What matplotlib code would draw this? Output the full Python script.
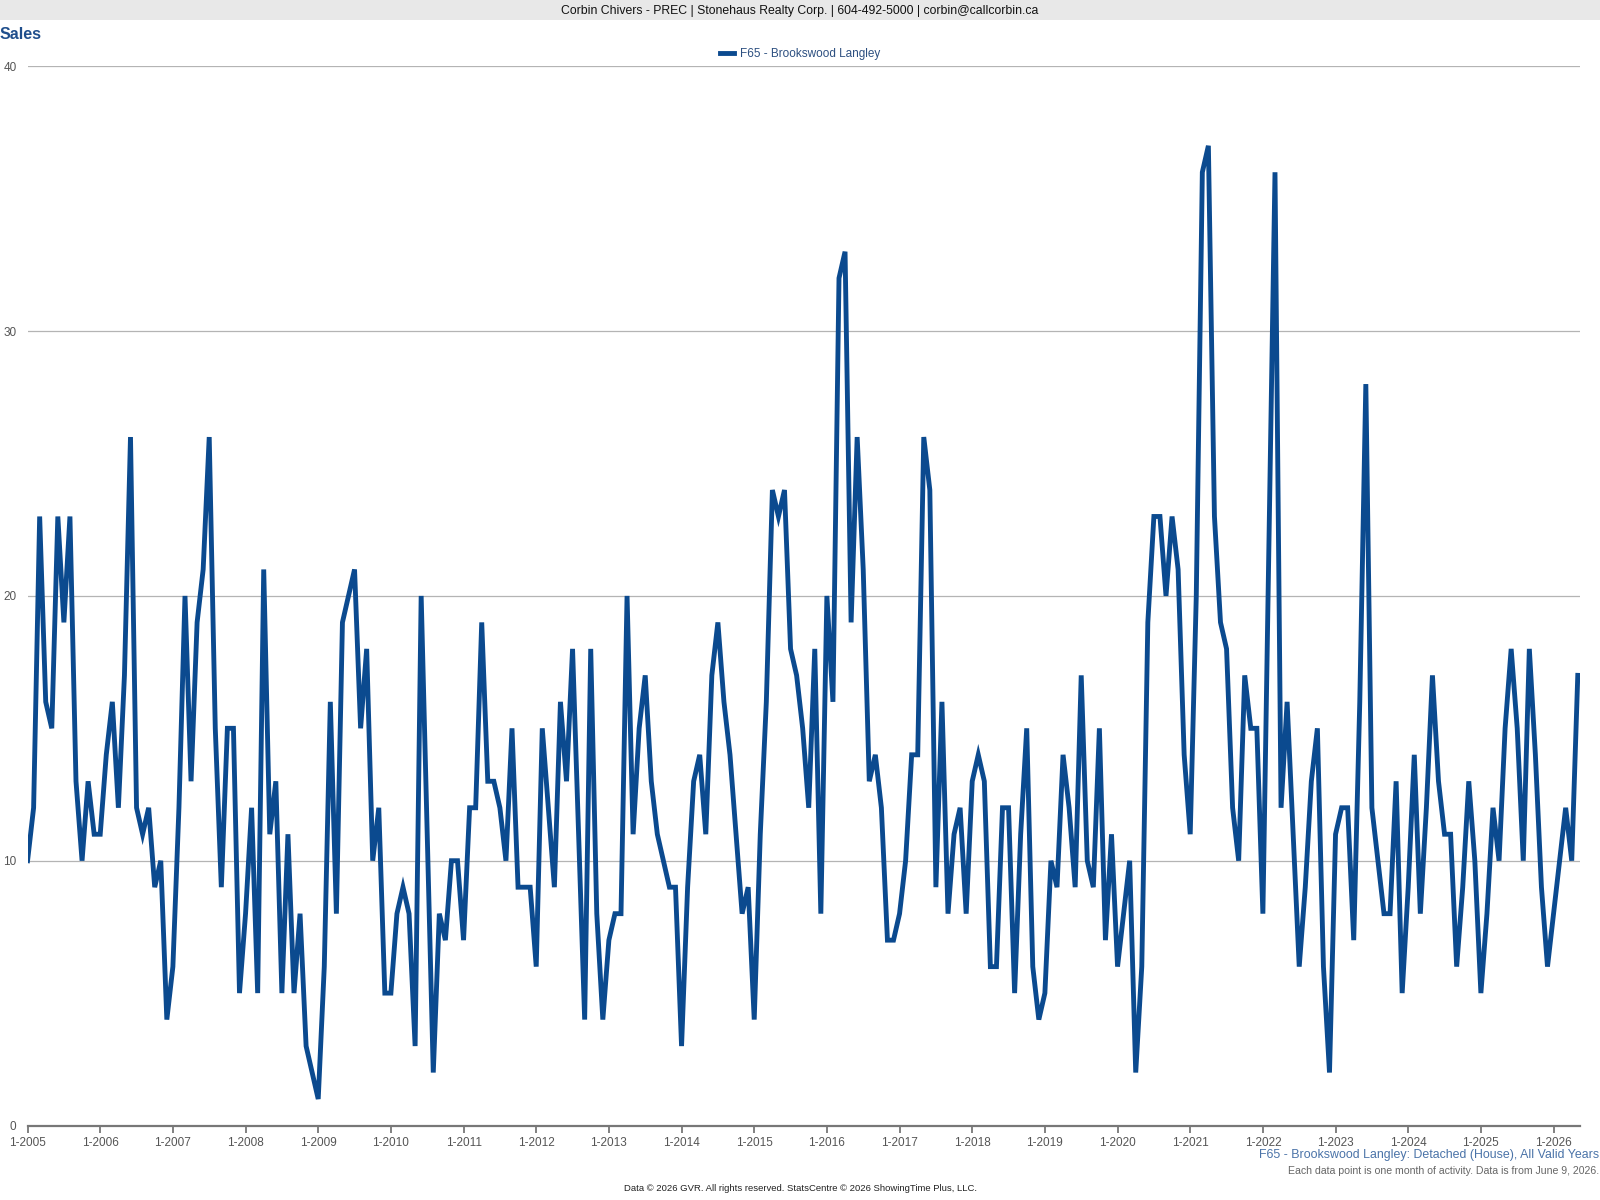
import matplotlib
matplotlib.use("Agg")
import matplotlib.pyplot as plt
from matplotlib.patches import Rectangle

plt.rcParams['font.family'] = ['Liberation Sans', 'DejaVu Sans']

# ---------------- data ----------------
start_year = 2005
sales_2005 = [10, 12, 23, 16, 15, 23, 19, 23, 13, 10, 13, 11]
sales_2006 = [11, 14, 16, 12, 17, 26, 12, 11, 12, 9, 10, 4]
sales_2007 = [6, 12, 20, 13, 19, 21, 26, 15, 9, 15, 15, 5]
sales_2008 = [8, 12, 5, 21, 11, 13, 5, 11, 5, 8, 3, 2]
sales_2009 = [1, 6, 16, 8, 19, 20, 21, 15, 18, 10, 12, 5]
sales_2010 = [5, 8, 9, 8, 3, 20, 11, 2, 8, 7, 10, 10]
sales_2011 = [7, 12, 12, 19, 13, 13, 12, 10, 15, 9, 9, 9]
sales_2012 = [6, 15, 12, 9, 16, 13, 18, 11, 4, 18, 8, 4]
sales_2013 = [7, 8, 8, 20, 11, 15, 17, 13, 11, 10, 9, 9]
sales_2014 = [3, 9, 13, 14, 11, 17, 19, 16, 14, 11, 8, 9]
sales_2015 = [4, 11, 16, 24, 23, 24, 18, 17, 15, 12, 18, 8]
sales_2016 = [20, 16, 32, 33, 19, 26, 21, 13, 14, 12, 7, 7]
sales_2017 = [8, 10, 14, 14, 26, 24, 9, 16, 8, 11, 12, 8]
sales_2018 = [13, 14, 13, 6, 6, 12, 12, 5, 11, 15, 6, 4]
sales_2019 = [5, 10, 9, 14, 12, 9, 17, 10, 9, 15, 7, 11]
sales_2020 = [6, 8, 10, 2, 6, 19, 23, 23, 20, 23, 21, 14]
sales_2021 = [11, 20, 36, 37, 23, 19, 18, 12, 10, 17, 15, 15]
sales_2022 = [8, 22, 36, 12, 16, 11, 6, 9, 13, 15, 6, 2]
sales_2023 = [11, 12, 12, 7, 16, 28, 12, 10, 8, 8, 13, 5]
sales_2024 = [9, 14, 8, 12, 17, 13, 11, 11, 6, 9, 13, 10]
sales_2025 = [5, 8, 12, 10, 15, 18, 15, 10, 18, 14, 9, 6]
sales_2026 = [8, 10, 12, 10, 17]

series_name = "F65 - Brookswood Langley"
y_ticks = [0, 10, 20, 30, 40]
tick_years = list(range(2005, 2027))
tick_labels = [f"1-{y}" for y in tick_years]

header_text = "Corbin Chivers - PREC | Stonehaus Realty Corp. | 604-492-5000 | corbin@callcorbin.ca"
title_text = "Sales"
subtitle_text = "F65 - Brookswood Langley: Detached (House), All Valid Years"
note_text = "Each data point is one month of activity. Data is from June 9, 2026."
credit_text = "Data \u00a9 2026 GVR. All rights reserved. StatsCentre \u00a9 2026 ShowingTime Plus, LLC."

sales = (sales_2005 + sales_2006 + sales_2007 + sales_2008 + sales_2009 + sales_2010 +
         sales_2011 + sales_2012 + sales_2013 + sales_2014 + sales_2015 + sales_2016 +
         sales_2017 + sales_2018 + sales_2019 + sales_2020 + sales_2021 + sales_2022 +
         sales_2023 + sales_2024 + sales_2025 + sales_2026)
months = list(range(len(sales)))
tick_pos = [(y - start_year) * 12 for y in tick_years]

# ---------------- figure ----------------
# layout measured on a 1568x1176 view of the reference
W, H = 1568, 1176
fig = plt.figure(figsize=(16, 12), dpi=100)
fig.patch.set_facecolor("white")

# header band
fig.patches.append(Rectangle((0, 1 - 20 / H), 1, 20 / H, transform=fig.transFigure,
                             facecolor="#e8e8e8", edgecolor="none", zorder=0))
fig.text(0.5, 1 - 10.5 / H, header_text, ha="center", va="center", fontsize=8.8, color="#111111")
fig.text(0.0, 1 - 34 / H, title_text, ha="left", va="center", fontsize=11.5,
         fontweight="bold", color="#1f4e8c")

line_color = "#0b4a8f"

ax = fig.add_axes([27 / W, 1 - 1103 / H, (1548 - 27) / W, (1103 - 65) / H])
ax.plot(months, sales, color=line_color, linewidth=3.5, solid_joinstyle="miter",
        label=series_name, zorder=3)

ax.set_ylim(0, 40)
ax.set_xlim(0, 256.3)
ax.set_yticks(y_ticks)
ax.set_yticklabels([str(v) for v in y_ticks])
ax.set_xticks(tick_pos)
ax.set_xticklabels(tick_labels)
ax.grid(axis="y", color="#b4b4b4", linewidth=0.9, zorder=0)
ax.grid(axis="x", visible=False)
for s in ["top", "right", "left"]:
    ax.spines[s].set_visible(False)
ax.spines["bottom"].set_color("#777777")
ax.spines["bottom"].set_linewidth(1.6)
ax.tick_params(axis="y", length=0, pad=8, labelsize=8.5, labelcolor="#555555")
ax.tick_params(axis="x", length=5, width=1.3, color="#777777", pad=3,
               labelsize=8.5, labelcolor="#555555")
ax.set_facecolor("white")

leg = fig.legend(handles=ax.get_lines(), labels=[series_name], loc="center",
                 bbox_to_anchor=(0.5, 1 - 53 / H), frameon=False, fontsize=8.5,
                 handlelength=1.2, handletextpad=0.5)
for t in leg.get_texts():
    t.set_color("#2c4f80")

fig.text(1567 / W, 1 - 1132 / H, subtitle_text, ha="right", va="center",
         fontsize=8.9, color="#4a73a8")
fig.text(1567 / W, 1 - 1148 / H, note_text, ha="right", va="center",
         fontsize=7.6, color="#666666")
fig.text(784 / W, 1 - 1165 / H, credit_text, ha="center", va="center",
         fontsize=6.8, color="#222222")

fig.savefig("out.png", dpi=100, facecolor="white")
